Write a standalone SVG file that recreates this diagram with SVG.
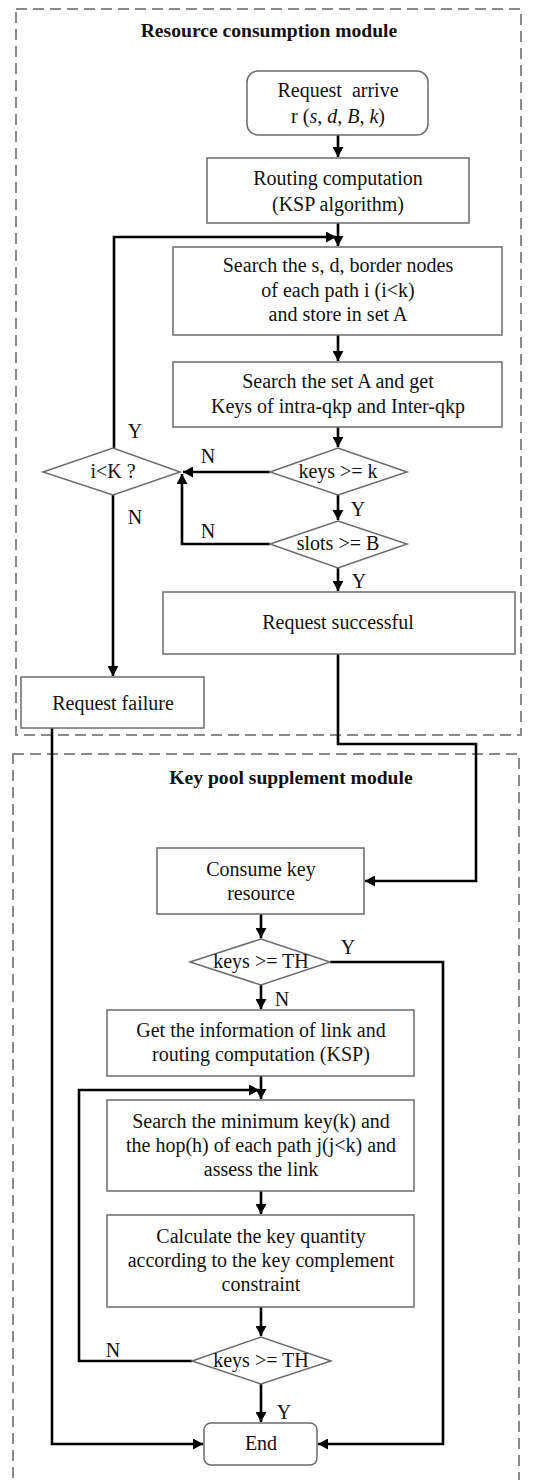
<svg xmlns="http://www.w3.org/2000/svg" width="534" height="1480" viewBox="0 0 534 1480">
<style>
text{font-family:"Liberation Serif","Times New Roman",serif;font-size:20px;fill:#111;text-anchor:middle}
.title{font-weight:bold;font-size:19.6px}
.box{fill:#fff;stroke:#6b6b6b;stroke-width:1.5}
.frame{fill:none;stroke:#8a8a8a;stroke-width:2;stroke-dasharray:11 6}
.c{fill:none;stroke:#000;stroke-width:2.6}
.a{marker-end:url(#ah)}
.m{font-style:italic}
</style>
<defs>
<marker id="ah" markerUnits="userSpaceOnUse" markerWidth="11" markerHeight="11" refX="10" refY="5.5" orient="auto">
<path d="M0,0 L10,5.5 L0,11 z" fill="#000"/>
</marker>
</defs>
<rect class="frame" x="16" y="9" width="505" height="726"/>
<rect class="frame" x="13" y="754" width="506" height="740"/>
<text class="title" x="269" y="37">Resource consumption module</text>
<text class="title" x="291" y="784">Key pool supplement module</text>

<g id="connectors">
<path class="c a" d="M338,135 V157"/>
<path class="c a" d="M338,223 V246"/>
<path class="c a" d="M114,448 V237 H336"/>
<path class="c a" d="M338,335 V361"/>
<path class="c a" d="M338,427 V447"/>
<path class="c a" d="M270,472 H183"/>
<path class="c a" d="M270,544 H182 V474"/>
<path class="c a" d="M338,495 V520"/>
<path class="c a" d="M338,568 V591"/>
<path class="c a" d="M113,495 V676"/>
<path class="c a" d="M338,654 V744 H476 V881 H365"/>
<path class="c a" d="M52,728 V1444 H203"/>
<path class="c a" d="M261,914 V938"/>
<path class="c a" d="M330,962 H443 V1444 H318"/>
<path class="c a" d="M261,985 V1009"/>
<path class="c a" d="M261,1076 V1099"/>
<path class="c a" d="M192,1361 H79 V1090 H259"/>
<path class="c a" d="M261,1191 V1214"/>
<path class="c a" d="M261,1307 V1336"/>
<path class="c a" d="M261,1384 V1422"/>
<text x="135" y="438">Y</text>
<text x="135" y="524">N</text>
<text x="208" y="463">N</text>
<text x="208" y="538">N</text>
<text x="358" y="516">Y</text>
<text x="359" y="588">Y</text>
<text x="348" y="954">Y</text>
<text x="282" y="1006">N</text>
<text x="113" y="1357">N</text>
<text x="284" y="1419">Y</text>
</g>

<g id="request-arrive">
<rect class="box" x="247" y="71" width="181" height="64" rx="11"/>
<text x="338" y="97">Request&#160; arrive</text>
<text x="338" y="123">r (<tspan class="m">s</tspan>, <tspan class="m">d</tspan>, <tspan class="m">B</tspan>, <tspan class="m">k</tspan>)</text>
</g>
<g id="routing">
<rect class="box" x="207" y="158" width="262" height="65"/>
<text x="338" y="185">Routing computation</text>
<text x="338" y="211">(KSP algorithm)</text>
</g>
<g id="search-nodes">
<rect class="box" x="173" y="247" width="329" height="88"/>
<text x="338" y="272">Search the s, d, border nodes</text>
<text x="338" y="297">of each path i (i&lt;k)</text>
<text x="338" y="321">and store in set A</text>
</g>
<g id="search-set">
<rect class="box" x="173" y="362" width="329" height="65"/>
<text x="338" y="388">Search the set A and get</text>
<text x="338" y="413">Keys of intra-qkp and Inter-qkp</text>
</g>
<g id="keys-k">
<path class="box" d="M270,472 L338,448 L407,472 L338,495 z"/>
<text x="338" y="478">keys &gt;= k</text>
</g>
<g id="i-less-K">
<path class="box" d="M43,472 L113,448 L180,472 L113,495 z"/>
<text x="113" y="478">i&lt;K ?</text>
</g>
<g id="slots-B">
<path class="box" d="M270,544 L338,521 L407,544 L338,568 z"/>
<text x="338" y="550">slots &gt;= B</text>
</g>
<g id="request-successful">
<rect class="box" x="163" y="592" width="352" height="62"/>
<text x="338" y="629">Request successful</text>
</g>
<g id="request-failure">
<rect class="box" x="21" y="677" width="183" height="51"/>
<text x="113" y="710">Request failure</text>
</g>
<g id="consume">
<rect class="box" x="157" y="848" width="207" height="66"/>
<text x="261" y="876">Consume key</text>
<text x="261" y="900">resource</text>
</g>
<g id="keys-th-1">
<path class="box" d="M190,962 L261,939 L330,962 L261,985 z"/>
<text x="261" y="968">keys &gt;= TH</text>
</g>
<g id="get-info">
<rect class="box" x="107" y="1010" width="307" height="66"/>
<text x="261" y="1037">Get the information of link and</text>
<text x="261" y="1061">routing computation (KSP)</text>
</g>
<g id="search-min">
<rect class="box" x="107" y="1100" width="307" height="91"/>
<text x="261" y="1128">Search the minimum key(k) and</text>
<text x="261" y="1152">the hop(h) of each path j(j&lt;k) and</text>
<text x="261" y="1176">assess the link</text>
</g>
<g id="calculate">
<rect class="box" x="107" y="1215" width="307" height="92"/>
<text x="261" y="1243">Calculate the key quantity</text>
<text x="261" y="1267">according to the key complement</text>
<text x="261" y="1291">constraint</text>
</g>
<g id="keys-th-2">
<path class="box" d="M192,1361 L261,1337 L331,1361 L261,1384 z"/>
<text x="261" y="1367">keys &gt;= TH</text>
</g>
<g id="end">
<rect class="box" x="204" y="1423" width="113" height="42" rx="7"/>
<text x="261" y="1450">End</text>
</g>
</svg>
